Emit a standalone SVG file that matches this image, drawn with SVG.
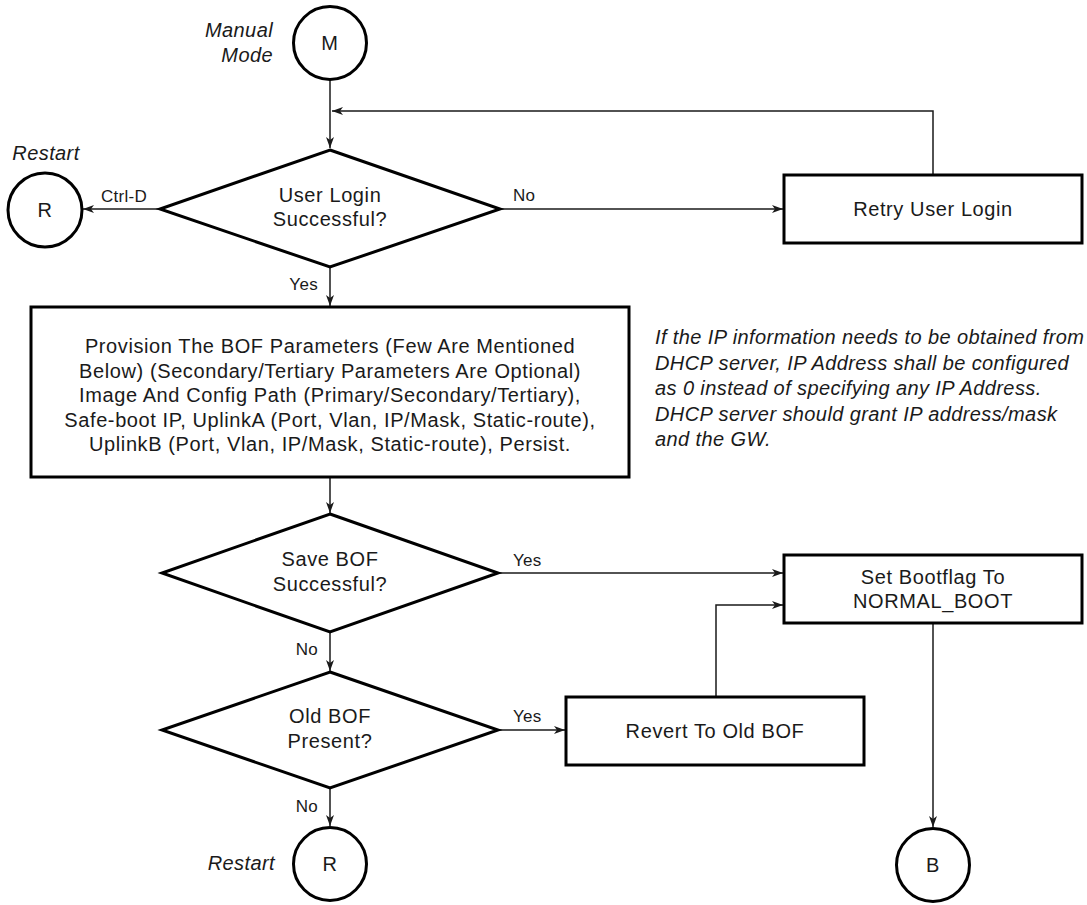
<svg xmlns="http://www.w3.org/2000/svg" width="1087" height="905" viewBox="0 0 1087 905">
  <style>
    .shape { fill: #ffffff; stroke: #000000; stroke-width: 3; }
    .conn { fill: none; stroke: #1a1a1a; stroke-width: 1.5; }
    .txt { font-family: "Liberation Sans", Arial, Helvetica, sans-serif; font-size: 20px; letter-spacing: 0.6px; fill: #1a1a1a; text-anchor: middle; }
    .lbl { font-family: "Liberation Sans", Arial, Helvetica, sans-serif; font-size: 17px; letter-spacing: 0.3px; fill: #1a1a1a; }
    .note { font-family: "Liberation Sans", Arial, Helvetica, sans-serif; font-size: 20px; letter-spacing: 0.4px; font-style: italic; fill: #1a1a1a; }
  </style>
  <defs>
    <marker id="arrow" markerWidth="12" markerHeight="10" refX="11" refY="4" orient="auto" markerUnits="userSpaceOnUse">
      <path d="M0,0 L11,4 L0,8 L3,4 z" fill="#1a1a1a"/>
    </marker>
  </defs>

  <rect width="1087" height="905" fill="#ffffff"/>

  <!-- connectors -->
  <g id="connectors">
    <path class="conn" d="M330,80 V148" marker-end="url(#arrow)"/>
    <path class="conn" d="M933,175 V111 H332" marker-end="url(#arrow)"/>
    <path class="conn" d="M160,209 H83" marker-end="url(#arrow)"/>
    <path class="conn" d="M500,209 H783" marker-end="url(#arrow)"/>
    <path class="conn" d="M330,267 V306" marker-end="url(#arrow)"/>
    <path class="conn" d="M330,477 V513" marker-end="url(#arrow)"/>
    <path class="conn" d="M498,573 H783" marker-end="url(#arrow)"/>
    <path class="conn" d="M330,632 V671" marker-end="url(#arrow)"/>
    <path class="conn" d="M498,730 H565" marker-end="url(#arrow)"/>
    <path class="conn" d="M716,697 V605 H783" marker-end="url(#arrow)"/>
    <path class="conn" d="M330,788 V826" marker-end="url(#arrow)"/>
    <path class="conn" d="M933,623 V827" marker-end="url(#arrow)"/>

    <text class="lbl" x="124" y="202" text-anchor="middle">Ctrl-D</text>
    <text class="lbl" x="513" y="201">No</text>
    <text class="lbl" x="318" y="290" text-anchor="end">Yes</text>
    <text class="lbl" x="513" y="566">Yes</text>
    <text class="lbl" x="318" y="655" text-anchor="end">No</text>
    <text class="lbl" x="513" y="722">Yes</text>
    <text class="lbl" x="318" y="812" text-anchor="end">No</text>
  </g>

  <!-- entry: manual mode -->
  <g id="start-manual">
    <circle class="shape" cx="330" cy="43" r="36.5"/>
    <text class="txt" x="330" y="50">M</text>
    <text class="note" x="273" y="37" text-anchor="end">Manual</text>
    <text class="note" x="273" y="62" text-anchor="end">Mode</text>
  </g>

  <g id="login-check">
    <polygon class="shape" points="330,150 500,209 330,267 160,209"/>
    <text class="txt" x="330" y="202">User Login</text>
    <text class="txt" x="330" y="226">Successful?</text>
  </g>

  <g id="restart-top">
    <circle class="shape" cx="45" cy="210" r="37"/>
    <text class="txt" x="45" y="217">R</text>
    <text class="note" x="46" y="160" text-anchor="middle">Restart</text>
  </g>

  <g id="retry-login">
    <rect class="shape" x="784" y="175" width="298" height="68"/>
    <text class="txt" x="933" y="216">Retry User Login</text>
  </g>

  <g id="provision-bof">
    <rect class="shape" x="31" y="307" width="598" height="170"/>
    <text class="txt" x="330" y="353">Provision The BOF Parameters (Few Are Mentioned</text>
    <text class="txt" x="330" y="377.5">Below) (Secondary/Tertiary Parameters Are Optional)</text>
    <text class="txt" x="330" y="402">Image And Config Path (Primary/Secondary/Tertiary),</text>
    <text class="txt" x="330" y="426.5">Safe-boot IP, UplinkA (Port, Vlan, IP/Mask, Static-route),</text>
    <text class="txt" x="330" y="451">UplinkB (Port, Vlan, IP/Mask, Static-route), Persist.</text>
  </g>

  <g id="dhcp-note">
    <text class="note" x="655" y="344">If the IP information needs to be obtained from</text>
    <text class="note" x="655" y="369.5">DHCP server, IP Address shall be configured</text>
    <text class="note" x="655" y="395">as 0 instead of specifying any IP Address.</text>
    <text class="note" x="655" y="420.5">DHCP server should grant IP address/mask</text>
    <text class="note" x="655" y="446">and the GW.</text>
  </g>

  <g id="save-check">
    <polygon class="shape" points="330,514 498,573 330,632 162,573"/>
    <text class="txt" x="330" y="566">Save BOF</text>
    <text class="txt" x="330" y="591">Successful?</text>
  </g>

  <g id="set-bootflag">
    <rect class="shape" x="784" y="555" width="298" height="68"/>
    <text class="txt" x="933" y="584">Set Bootflag To</text>
    <text class="txt" x="933" y="608">NORMAL_BOOT</text>
  </g>

  <g id="old-bof-check">
    <polygon class="shape" points="330,672 498,730 330,788 162,730"/>
    <text class="txt" x="330" y="723">Old BOF</text>
    <text class="txt" x="330" y="748">Present?</text>
  </g>

  <g id="revert-bof">
    <rect class="shape" x="566" y="697" width="298" height="68"/>
    <text class="txt" x="715" y="738">Revert To Old BOF</text>
  </g>

  <g id="restart-bottom">
    <circle class="shape" cx="330" cy="864" r="36.5"/>
    <text class="txt" x="330" y="871">R</text>
    <text class="note" x="275" y="870" text-anchor="end">Restart</text>
  </g>

  <g id="boot-end">
    <circle class="shape" cx="933" cy="865" r="36.5"/>
    <text class="txt" x="933" y="872">B</text>
  </g>
</svg>
